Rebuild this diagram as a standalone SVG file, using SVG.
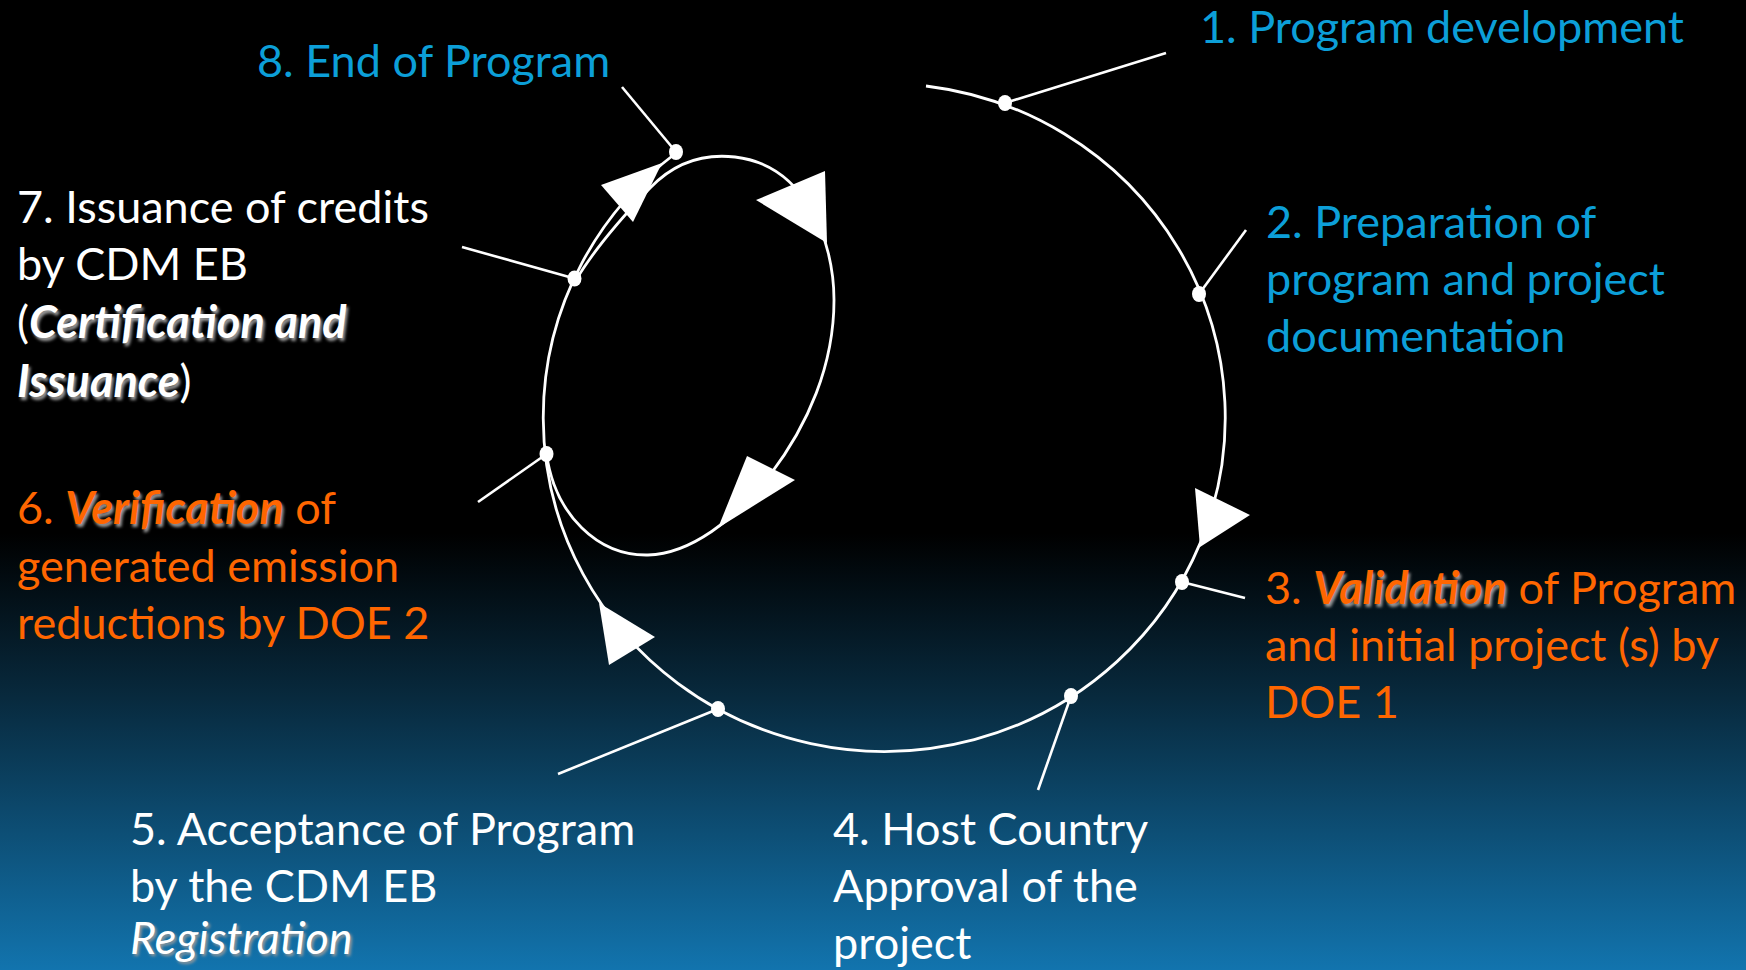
<svg xmlns="http://www.w3.org/2000/svg" width="1746" height="970" viewBox="0 0 1746 970">
<defs>
<linearGradient id="bg" x1="0" y1="0" x2="0" y2="1">
<stop offset="0" stop-color="#000000"/>
<stop offset="0.55" stop-color="#000000"/>
<stop offset="0.72" stop-color="#082a3e"/>
<stop offset="1" stop-color="#1274ae"/>
</linearGradient>
<filter id="blur" x="-10%" y="-30%" width="120%" height="160%">
<feGaussianBlur stdDeviation="1.6"/>
</filter>
</defs>
<style>
.t{font-family:Lato,"Open Sans","Liberation Sans",sans-serif;font-size:45px}
.blue{fill:#0c9fd8}
.orange{fill:#ff6600}
.white{fill:#ffffff}
.em{font-weight:bold;font-style:italic}
.it{font-style:italic}
.shadow{fill:#9a9a9a}
.hide{fill-opacity:0}
.line{fill:none;stroke:#ffffff;stroke-width:2.8}
.lead{stroke:#ffffff;stroke-width:2.6}
.dot{fill:#ffffff}
.head{fill:#ffffff}
</style>
<rect x="0" y="0" width="1746" height="970" fill="url(#bg)"/>

<g id="connectors">
<path class="line" d="M 926,86 A 341 334 0 1 1 676,153"/>
<path class="line" d="M 546.5,454 C 555,515 598,556 648,555 C 690,554 735,520 770,475 C 808,425 834,365 834,300 C 834,240 805,165 735,157 C 700,153 672,165 650,188 C 628,211 595,248 576,280"/>
<polygon class="head" points="1195,488 1250,515 1200,547"/>
<polygon class="head" points="599,603 655,637 609,665"/>
<polygon class="head" points="747,456 795,480 718,528"/>
<polygon class="head" points="756,200 825,171 827,243"/>
<polygon class="head" points="601,185 662,163 633,222"/>
</g>

<g id="step1">
<line class="lead" x1="1005" y1="103" x2="1166" y2="53"/>
<ellipse class="dot" cx="1005" cy="103" rx="7" ry="8"/>
<text class="t blue" x="1200" y="43">1. Program development</text>
</g>

<g id="step2">
<line class="lead" x1="1199" y1="294" x2="1246" y2="230"/>
<ellipse class="dot" cx="1199" cy="294" rx="7" ry="8"/>
<text class="t blue" x="1266" y="238">2. Preparation of</text>
<text class="t blue" x="1266" y="295">program and project</text>
<text class="t blue" x="1266" y="352">documentation</text>
</g>

<g id="step3">
<line class="lead" x1="1182" y1="582" x2="1245" y2="598"/>
<ellipse class="dot" cx="1182" cy="582" rx="7" ry="8"/>
<text class="t shadow" x="1267" y="607" filter="url(#blur)"><tspan class="hide">3. </tspan><tspan class="em">Validation</tspan></text>
<text class="t orange" x="1265" y="604">3. <tspan class="em">Validation</tspan> of Program</text>
<text class="t orange" x="1265" y="661">and initial project (s) by</text>
<text class="t orange" x="1265" y="718">DOE 1</text>
</g>

<g id="step4">
<line class="lead" x1="1071" y1="696" x2="1038" y2="790"/>
<ellipse class="dot" cx="1071" cy="696" rx="7" ry="8"/>
<text class="t white" x="833" y="845">4. Host Country</text>
<text class="t white" x="833" y="902">Approval of the</text>
<text class="t white" x="833" y="959">project</text>
</g>

<g id="step5">
<line class="lead" x1="718" y1="709" x2="558" y2="774"/>
<ellipse class="dot" cx="718" cy="709" rx="7" ry="8"/>
<text class="t white" x="130" y="845">5. Acceptance of Program</text>
<text class="t white" x="130" y="902">by the CDM EB</text>
<text class="t shadow it" x="132" y="956" filter="url(#blur)">Registration</text>
<text class="t white it" x="130" y="954">Registration</text>
</g>

<g id="step6">
<line class="lead" x1="546.5" y1="454" x2="478" y2="502"/>
<ellipse class="dot" cx="546.5" cy="454" rx="7" ry="8"/>
<text class="t shadow" x="19" y="527" filter="url(#blur)"><tspan class="hide">6. </tspan><tspan class="em">Verification</tspan></text>
<text class="t orange" x="17" y="524">6. <tspan class="em">Verification</tspan> of</text>
<text class="t orange" x="17" y="582">generated emission</text>
<text class="t orange" x="17" y="639">reductions by DOE 2</text>
</g>

<g id="step7">
<line class="lead" x1="574.5" y1="278.5" x2="462" y2="247"/>
<ellipse class="dot" cx="574.5" cy="278.5" rx="7" ry="8"/>
<text class="t white" x="17" y="223">7. Issuance of credits</text>
<text class="t white" x="17" y="280">by CDM EB</text>
<text class="t shadow" x="19" y="341" filter="url(#blur)"><tspan class="hide">(</tspan><tspan class="em">Certification and</tspan></text>
<text class="t white" x="17" y="338">(<tspan class="em">Certification and</tspan></text>
<text class="t shadow em" x="19" y="400" filter="url(#blur)">Issuance</text>
<text class="t white" x="17" y="397"><tspan class="em">Issuance</tspan>)</text>
</g>

<g id="step8">
<line class="lead" x1="676" y1="152" x2="622" y2="87"/>
<ellipse class="dot" cx="676" cy="152" rx="7" ry="8"/>
<text class="t blue" x="257" y="77">8. End of Program</text>
</g>
</svg>
